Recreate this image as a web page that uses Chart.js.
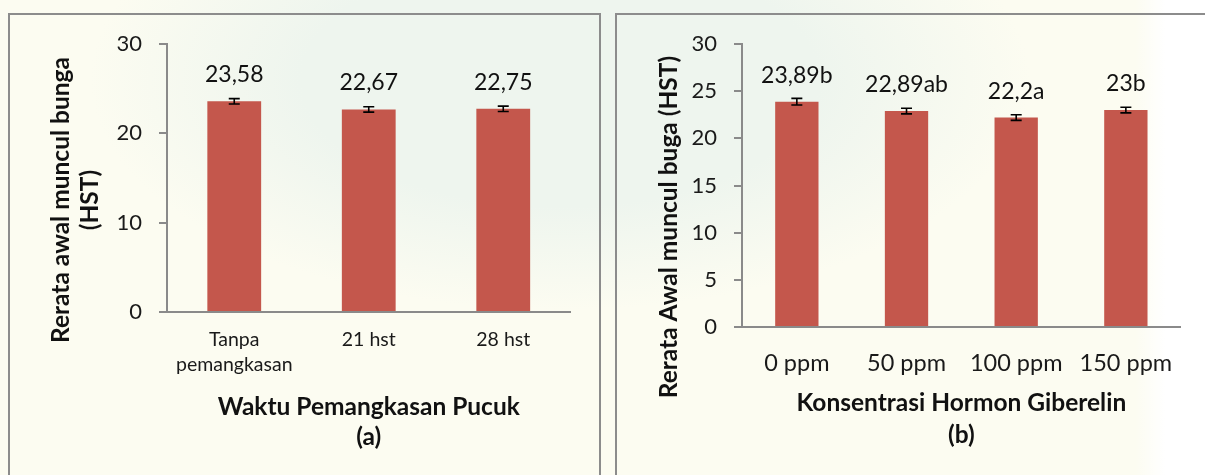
<!DOCTYPE html>
<html>
<head>
<meta charset="utf-8">
<script src="https://cdn.jsdelivr.net/npm/chart.js@4.4.1/dist/chart.umd.min.js"></script>
<style>
  html, body { margin: 0; padding: 0; }
  body {
    width: 1205px; height: 475px; overflow: hidden; position: relative;
    background:
      linear-gradient(to right, rgba(255,255,255,0) 0, rgba(255,255,255,0) 1135px, #ffffff 1165px),
      radial-gradient(ellipse 470px 230px at 560px 80px, #eef5ee 0, #eef5ee 55%, rgba(238,245,238,0) 100%),
      #fcfcf1;
  }
  .panel { position: absolute; border: 2px solid #8c8c8c; box-sizing: border-box; }
  #panelA { left: 8px; top: 13px; width: 593px; height: 480px; }
  #panelB { left: 615px; top: 13px; width: 610px; height: 480px; }
  canvas { position: absolute; top: 0; }
  #chartA { left: 0; }
  #chartB { left: 605px; }
</style>
</head>
<body>
<div class="panel" id="panelA"></div>
<div class="panel" id="panelB"></div>
<canvas id="chartA" width="605" height="475"></canvas>
<canvas id="chartB" width="600" height="475"></canvas>
<script>
// (a) flowering onset by shoot-pruning time
const pruningLabels = [['Tanpa', 'pemangkasan'], '21 hst', '28 hst'];
const pruningMeans = [23.58, 22.67, 22.75];
const pruningErr = [0.3, 0.3, 0.3];
const pruningTicks = [0, 10, 20, 30];

// (b) flowering onset by gibberellin concentration
const gaLabels = ['0 ppm', '50 ppm', '100 ppm', '150 ppm'];
const gaMeans = [23.89, 22.89, 22.2, 23];
const gaNotation = ['b', 'ab', 'a', 'b'];
const gaErr = [0.35, 0.3, 0.3, 0.3];
const gaTicks = [0, 5, 10, 15, 20, 25, 30];

const BAR = '#c4574c';
const AXIS = '#8a8a8a';
const FONT = 'Lato, "Open Sans", sans-serif';

const fmt = v => String(v).replace('.', ',');

// error bars + value labels above each bar
const barExtras = {
  id: 'barExtras',
  afterDatasetsDraw(chart, args, opts) {
    const { ctx } = chart;
    const y = chart.scales.y;
    const meta = chart.getDatasetMeta(0);
    const ds = chart.data.datasets[0];
    ctx.save();
    ctx.strokeStyle = '#000';
    ctx.lineWidth = 1.6;
    meta.data.forEach((bar, i) => {
      const v = ds.data[i], e = opts.errors[i];
      const yHi = y.getPixelForValue(v + e), yLo = y.getPixelForValue(v - e);
      const x = bar.x, cap = 5.5;
      ctx.beginPath();
      ctx.moveTo(x, yHi); ctx.lineTo(x, yLo);
      ctx.moveTo(x - cap, yHi); ctx.lineTo(x + cap, yHi);
      ctx.moveTo(x - cap, yLo); ctx.lineTo(x + cap, yLo);
      ctx.stroke();
    });
    ctx.fillStyle = '#111';
    ctx.font = '23px ' + FONT;
    ctx.textAlign = 'center';
    ctx.textBaseline = 'alphabetic';
    meta.data.forEach((bar, i) => {
      const text = fmt(ds.data[i]) + (opts.suffix ? opts.suffix[i] : '');
      ctx.fillText(text, bar.x, y.getPixelForValue(ds.data[i]) - 19);
    });
    ctx.restore();
  }
};

// axis titles and panel caption
const axisTitles = {
  id: 'axisTitles',
  afterDraw(chart, args, opts) {
    const { ctx, chartArea: a } = chart;
    const cx = (a.left + a.right) / 2;
    ctx.save();
    ctx.fillStyle = '#111';
    ctx.font = 'bold 24.5px ' + FONT;
    ctx.textAlign = 'center';
    ctx.textBaseline = 'middle';
    ctx.fillText(opts.xTitle, cx, opts.xTitleY);
    ctx.fillText(opts.caption, cx, opts.captionY);
    opts.yTitle.forEach((line, i) => {
      ctx.save();
      ctx.translate(opts.yTitleX[i], opts.yTitleY);
      ctx.rotate(-Math.PI / 2);
      ctx.fillText(line, 0, 0);
      ctx.restore();
    });
    ctx.restore();
  }
};

function makeChart(id, labels, values, tickValues, stepSize, cfg) {
  return new Chart(document.getElementById(id), {
    type: 'bar',
    data: {
      labels: labels,
      datasets: [{
        data: values,
        backgroundColor: BAR,
        borderWidth: 0,
        categoryPercentage: 1,
        barPercentage: cfg.barPct
      }]
    },
    options: {
      responsive: false,
      animation: false,
      layout: { padding: cfg.padding },
      plugins: {
        legend: { display: false },
        tooltip: { enabled: false },
        barExtras: cfg.extras,
        axisTitles: cfg.titles
      },
      scales: {
        x: {
          offset: true,
          grid: { display: false, drawTicks: false },
          border: { display: true, color: AXIS, width: 2 },
          ticks: {
            color: '#1a1a1a',
            padding: cfg.xPad,
            maxRotation: 0,
            autoSkip: false,
            font: { family: FONT, size: cfg.xFont, lineHeight: cfg.xLine }
          },
          afterFit(s) { s.height = cfg.xHeight; }
        },
        y: {
          min: 0, max: 30,
          ticks: {
            stepSize: stepSize,
            color: '#1a1a1a',
            padding: 17,
            font: { family: FONT, size: 22 }
          },
          afterBuildTicks(s) { s.ticks = tickValues.map(v => ({ value: v })); },
          grid: { drawOnChartArea: false, color: AXIS, lineWidth: 2, tickLength: 8 },
          border: { display: true, color: AXIS, width: 2 },
          afterFit(s) { s.width = cfg.yWidth; }
        }
      }
    },
    plugins: [barExtras, axisTitles]
  });
}

makeChart('chartA', pruningLabels, pruningMeans, pruningTicks, 10, {
  barPct: 0.40,
  padding: { left: 0, top: 44, right: 34.5, bottom: 0 },
  yWidth: 167, xHeight: 163,
  xFont: 19.5, xLine: 1.3, xPad: 15,
  extras: { errors: pruningErr },
  titles: {
    xTitle: 'Waktu Pemangkasan Pucuk', xTitleY: 407,
    caption: '(a)', captionY: 437,
    yTitle: ['Rerata awal muncul bunga', '(HST)'], yTitleX: [61, 90], yTitleY: 200
  }
});

makeChart('chartB', gaLabels, gaMeans, gaTicks, 5, {
  barPct: 0.395,
  padding: { left: 0, top: 44, right: 24.3, bottom: 0 },
  yWidth: 137, xHeight: 148,
  xFont: 23.5, xLine: 1.2, xPad: 22,
  extras: { errors: gaErr, suffix: gaNotation },
  titles: {
    xTitle: 'Konsentrasi Hormon Giberelin', xTitleY: 403,
    caption: '(b)', captionY: 435,
    yTitle: ['Rerata Awal muncul buga (HST)'], yTitleX: [64], yTitleY: 227
  }
});
</script>
</body>
</html>
